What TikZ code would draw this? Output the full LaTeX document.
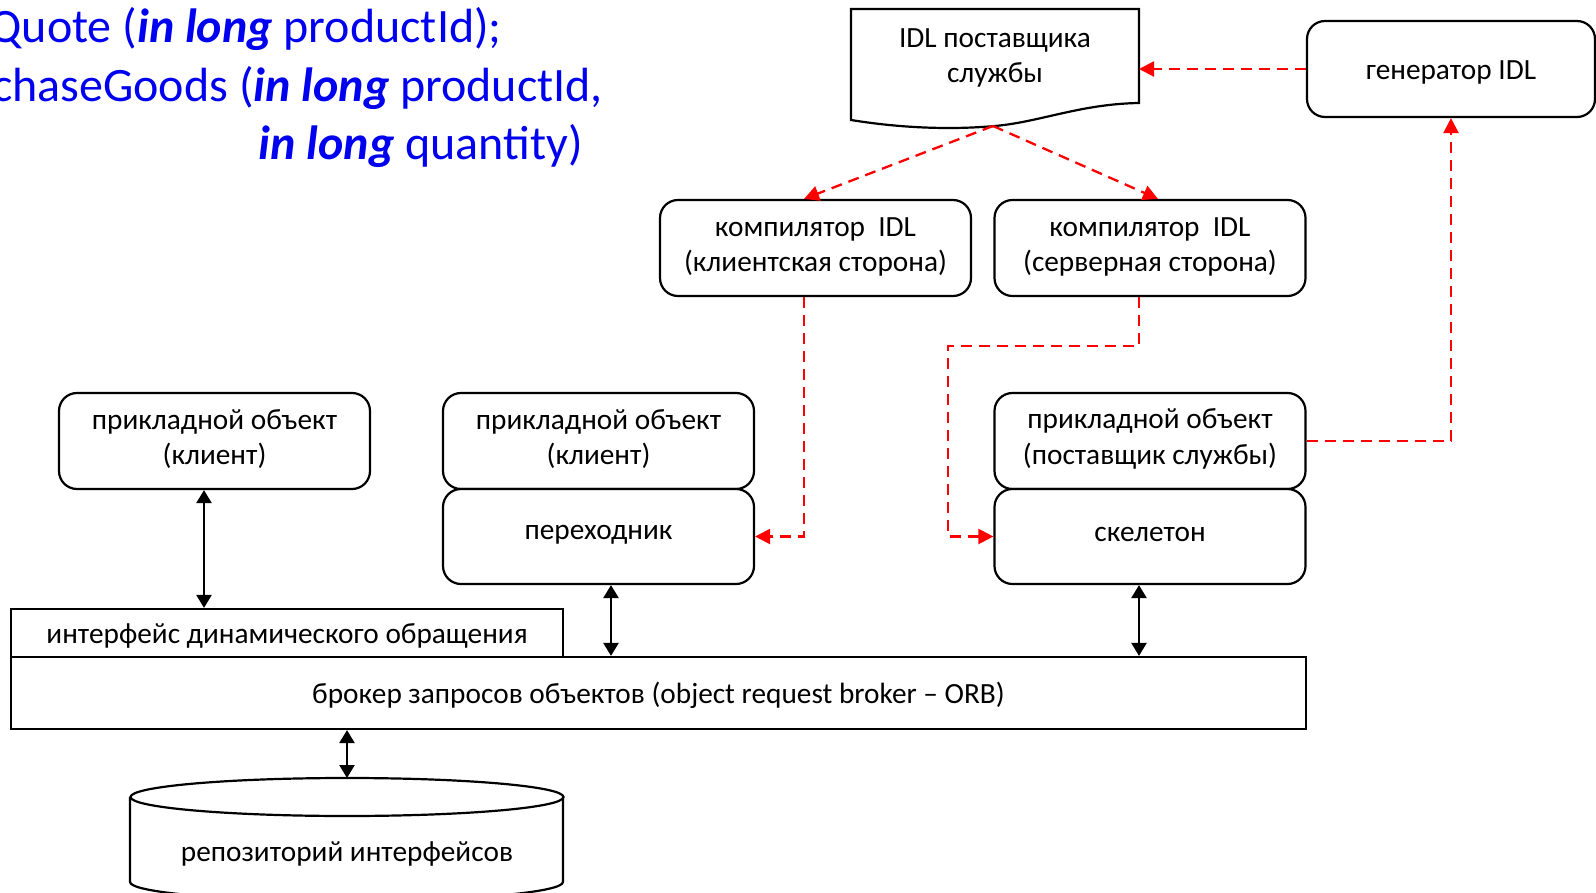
\documentclass[tikz,border=0pt]{standalone}
\usepackage{fontspec}
\setmainfont{Carlito}
\usetikzlibrary{arrows.meta,calc}
\definecolor{sigblue}{RGB}{0,0,240}
\definecolor{flowred}{RGB}{255,0,0}
% move a label vertically without changing the box it occupies
\newcommand{\nudge}[2]{\raisebox{#1}[\height][\depth]{#2}}
\begin{document}
\begin{tikzpicture}[x=1pt,y=-1pt,
  txt/.style={font=\fontsize{29.3}{35.6}\selectfont, align=center},
  rbox/.style={txt, draw, line width=2.2pt, rounded corners=18pt,
    minimum width=311pt, minimum height=96pt, inner sep=0pt, fill=white},
  sbox/.style={txt, draw, line width=2.2pt, inner sep=0pt, fill=white},
  both/.style={line width=2.5pt,
    {Triangle[length=13pt,width=15pt]}-{Triangle[length=13pt,width=15pt]}},
  gen/.style={draw=flowred, line width=2.3pt, dash pattern=on 11pt off 7pt,
    -{Triangle[length=15pt,width=15pt]}},
  sig/.style={font=\fontsize{48}{58}\selectfont, text=sigblue,
    anchor=base east, inner sep=0pt}]
\useasboundingbox (0,0) rectangle (1596,893);

% IDL signatures
\node[sig] (s1) at (502,43) {Quote (\textbf{\textit{in long}} productId);};
\node[sig] (s2) at (603,102) {chaseGoods (\textbf{\textit{in long}} productId,};
\node[sig] (s3) at (583,160) {\textbf{\textit{in long}} quantity)};

% document with the provider's IDL
\draw[line width=2.2pt, fill=white] (851,9) -- (1139,9) -- (1139,103)
  .. controls (1080,104) and (1040,122) .. (995,126)
  .. controls (950,130) and (900,128) .. (851,120) -- cycle;
\coordinate (idlbot) at (993,126);
\coordinate (idlr) at (1139,69);
\node[txt] (idl) at (995,58) {IDL поставщика\\службы};

% boxes
\node[rbox, minimum width=288pt] (genr) at (1451,69) {\nudge{-3pt}{генератор IDL}};
\node[rbox] (cc) at (815.5,248) {\nudge{1pt}{компилятор\ \ IDL}\\\nudge{1pt}{(клиентская сторона)}};
\node[rbox] (cs) at (1150,248) {\nudge{1pt}{компилятор\ \ IDL}\\\nudge{1pt}{(серверная сторона)}};
\node[rbox] (cl1) at (214.5,441) {\nudge{2pt}{прикладной объект}\\\nudge{2pt}{(клиент)}};
\node[rbox] (cl2) at (598.5,441) {\nudge{2pt}{прикладной объект}\\\nudge{2pt}{(клиент)}};
\node[rbox, minimum height=95pt] (perekh) at (598.5,536.5) {\nudge{2pt}{переходник}};
\node[rbox] (post) at (1150,441) {\nudge{2pt}{прикладной объект}\\\nudge{2pt}{(поставщик службы)}};
\node[rbox, minimum height=95pt] (skel) at (1150,536.5) {\nudge{2pt}{скелетон}};

\node[sbox, minimum width=552pt, minimum height=48pt] (dii) at (287,633)
  {\nudge{-3pt}{интерфейс динамического обращения}};
\node[sbox, minimum width=1295pt, minimum height=72pt] (broker) at (658.5,693)
  {\nudge{-2pt}{брокер запросов объектов (object request broker – ORB)}};

% interface repository cylinder
\draw[line width=2.2pt, fill=white] (130,797) -- (130,882)
  arc[start angle=180, end angle=0, x radius=216.5, y radius=19] -- (563,797);
\draw[line width=2.2pt] (347,797) ellipse [x radius=216.5, y radius=19];
\coordinate (repotop) at (347,778);
\node[txt] (repo) at (347,854) {репозиторий интерфейсов};

% request paths
\draw[both] ([xshift=-10.5pt]cl1.south) -- ([xshift=-10.5pt]cl1.south |- dii.north);
\draw[both] ([xshift=12.5pt]perekh.south) -- ([xshift=12.5pt]perekh.south |- broker.north);
\draw[both] ([xshift=-11pt]skel.south) -- ([xshift=-11pt]skel.south |- broker.north);
\draw[both] (repotop |- broker.south) -- (repotop);

% generation flow
\draw[gen] (genr.west) -- (idlr);
\draw[gen] (idlbot) -- ([xshift=-11.5pt]cc.north);
\draw[gen] (idlbot) -- ([xshift=8pt]cs.north);
\draw[gen] ([xshift=-11.5pt]cc.south) |- (perekh.east);
\draw[gen] ([xshift=-11pt]cs.south) -- ++(0,49) -- ++(-191,0) |- (skel.west);
\draw[gen] (post.east) -| (genr.south);
\end{tikzpicture}
\end{document}
